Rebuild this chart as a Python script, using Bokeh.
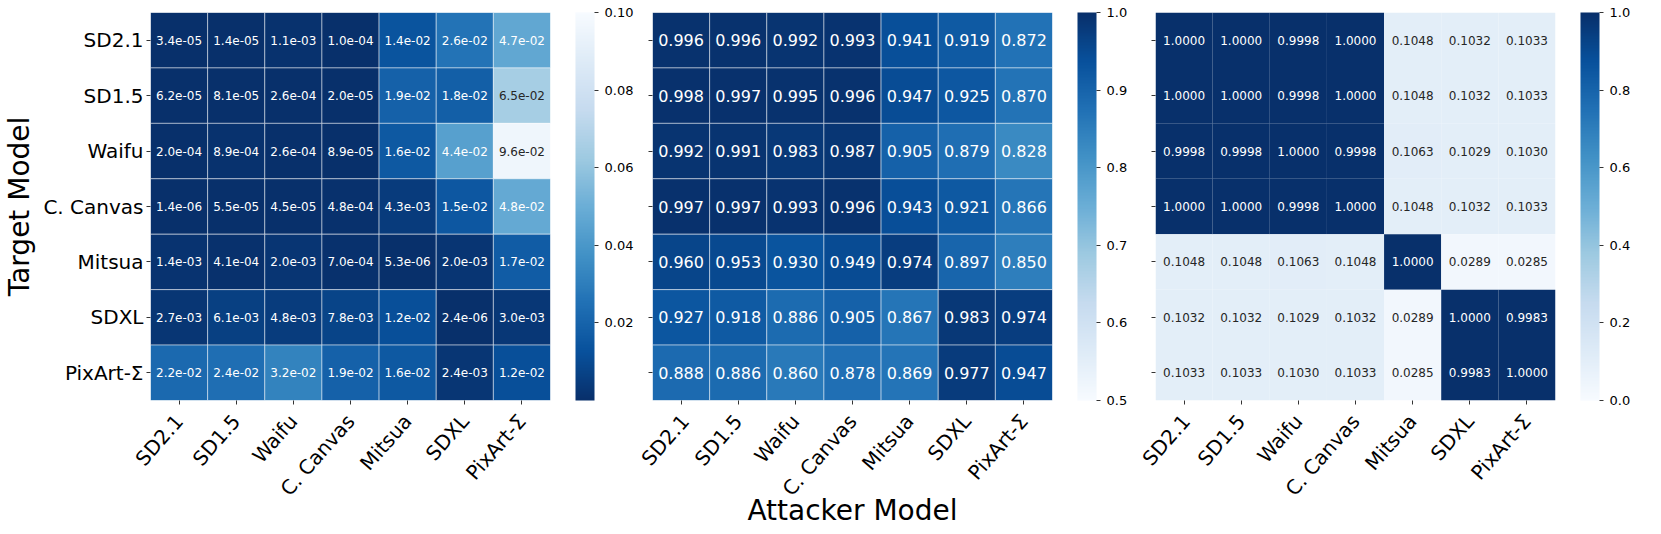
import math
from bokeh.plotting import figure
from bokeh.models import (ColumnDataSource, LinearColorMapper, ColorBar, FixedTicker,
                          PrintfTickFormatter, FactorRange)
from bokeh.palettes import Blues256
from bokeh.layouts import row
from bokeh.embed import file_html
from bokeh.resources import INLINE
from bokeh.core.properties import value
from bokeh.transform import transform

models = ["SD2.1", "SD1.5", "Waifu", "C. Canvas", "Mitsua", "SDXL", "PixArt-Σ"]

# panel 1 (rows = target model, columns = attacker model)
pvals = [
    [3.4e-05, 1.4e-05, 1.1e-03, 1.0e-04, 1.4e-02, 2.6e-02, 4.7e-02],
    [6.2e-05, 8.1e-05, 2.6e-04, 2.0e-05, 1.9e-02, 1.8e-02, 6.5e-02],
    [2.0e-04, 8.9e-04, 2.6e-04, 8.9e-05, 1.6e-02, 4.4e-02, 9.6e-02],
    [1.4e-06, 5.5e-05, 4.5e-05, 4.8e-04, 4.3e-03, 1.5e-02, 4.8e-02],
    [1.4e-03, 4.1e-04, 2.0e-03, 7.0e-04, 5.3e-06, 2.0e-03, 1.7e-02],
    [2.7e-03, 6.1e-03, 4.8e-03, 7.8e-03, 1.2e-02, 2.4e-06, 3.0e-03],
    [2.2e-02, 2.4e-02, 3.2e-02, 1.9e-02, 1.6e-02, 2.4e-03, 1.2e-02],
]
# panel 2
accs = [
    [0.996, 0.996, 0.992, 0.993, 0.941, 0.919, 0.872],
    [0.998, 0.997, 0.995, 0.996, 0.947, 0.925, 0.870],
    [0.992, 0.991, 0.983, 0.987, 0.905, 0.879, 0.828],
    [0.997, 0.997, 0.993, 0.996, 0.943, 0.921, 0.866],
    [0.960, 0.953, 0.930, 0.949, 0.974, 0.897, 0.850],
    [0.927, 0.918, 0.886, 0.905, 0.867, 0.983, 0.974],
    [0.888, 0.886, 0.860, 0.878, 0.869, 0.977, 0.947],
]
# panel 3
sims = [
    [1.0000, 1.0000, 0.9998, 1.0000, 0.1048, 0.1032, 0.1033],
    [1.0000, 1.0000, 0.9998, 1.0000, 0.1048, 0.1032, 0.1033],
    [0.9998, 0.9998, 1.0000, 0.9998, 0.1063, 0.1029, 0.1030],
    [1.0000, 1.0000, 0.9998, 1.0000, 0.1048, 0.1032, 0.1033],
    [0.1048, 0.1048, 0.1063, 0.1048, 1.0000, 0.0289, 0.0285],
    [0.1032, 0.1032, 0.1029, 0.1032, 0.0289, 1.0000, 0.9983],
    [0.1033, 0.1033, 0.1030, 0.1033, 0.0285, 0.9983, 1.0000],
]

cb1_ticks = [0.02, 0.04, 0.06, 0.08, 0.10]
cb2_ticks = [0.5, 0.6, 0.7, 0.8, 0.9, 1.0]
cb3_ticks = [0.0, 0.2, 0.4, 0.6, 0.8, 1.0]

FONT = "DejaVu Sans"
BLUES = list(Blues256)          # dark -> light
BLUES_R = list(reversed(BLUES))  # light -> dark
XANGLE = 0.85


def lum(hexc):
    r, g, b = [int(hexc[i:i + 2], 16) / 255 for i in (1, 3, 5)]

    def lin(c):
        return c / 12.92 if c <= 0.03928 else ((c + 0.055) / 1.055) ** 2.4
    return 0.2126 * lin(r) + 0.7152 * lin(g) + 0.0722 * lin(b)


def make_panel(matrix, palette, low, high, fmt, txt_size, cb_ticks, cb_fmt,
               left, right, show_ylabels, xlabel, lines):
    xs, ys, vals, txt, tcol = [], [], [], [], []
    n = len(palette)
    for i, rw in enumerate(matrix):
        for j, v in enumerate(rw):
            xs.append(models[j])
            ys.append(models[i])
            vals.append(v)
            txt.append(fmt % v)
            idx = int((v - low) / (high - low) * n)
            idx = max(0, min(n - 1, idx))
            tcol.append("#262626" if lum(palette[idx]) > 0.408 else "white")
    src = ColumnDataSource(dict(x=xs, y=ys, v=vals, t=txt, c=tcol))
    mapper = LinearColorMapper(palette=palette, low=low, high=high)

    p = figure(x_range=FactorRange(factors=models),
               y_range=FactorRange(factors=list(reversed(models))),
               frame_width=400, frame_height=388,
               min_border_left=left, min_border_right=right,
               min_border_top=12, min_border_bottom=4,
               output_backend="svg", toolbar_location=None)
    p.rect(x="x", y="y", width=1, height=1, source=src,
           fill_color=transform("v", mapper),
           line_color="white" if lines else None,
           line_width=0.8, line_alpha=0.6)
    p.text(x="x", y="y", text="t", text_color="c", source=src,
           text_align="center", text_baseline="middle",
           text_font=value(FONT), text_font_size=value(f"{txt_size}px"))

    p.grid.grid_line_color = None
    p.outline_line_color = None
    p.axis.axis_line_color = None
    p.axis.major_tick_in = 0
    p.axis.major_tick_out = 4
    p.axis.major_tick_line_color = "black"
    p.axis.major_tick_line_width = 0.8
    p.axis.minor_tick_line_color = None
    p.axis.major_label_text_font = FONT
    p.axis.major_label_text_font_size = "20px"
    p.axis.major_label_text_color = "black"
    p.yaxis.major_label_standoff = 3
    p.xaxis.major_label_standoff = 13
    p.xaxis.major_label_orientation = XANGLE
    if not show_ylabels:
        p.yaxis.major_label_text_color = None
        p.yaxis.major_label_text_font_size = "0px"
    else:
        p.yaxis.axis_label = "Target Model"
        p.yaxis.axis_label_text_font = FONT
        p.yaxis.axis_label_text_font_size = "28px"
        p.yaxis.axis_label_text_font_style = "normal"
        p.yaxis.axis_label_text_color = "black"
        p.yaxis.axis_label_standoff = 4
    if xlabel:
        p.xaxis.axis_label = xlabel
        p.xaxis.axis_label_text_font = FONT
        p.xaxis.axis_label_text_font_size = "28px"
        p.xaxis.axis_label_text_font_style = "normal"
        p.xaxis.axis_label_text_color = "black"
        p.xaxis.axis_label_standoff = -18

    cb = ColorBar(color_mapper=mapper, ticker=FixedTicker(ticks=cb_ticks),
                  formatter=PrintfTickFormatter(format=cb_fmt),
                  width=19, height=388, padding=0, margin=0,
                  location=(25, 0),
                  major_tick_in=0, major_tick_out=4,
                  major_tick_line_color="black", major_tick_line_width=0.8,
                  minor_tick_line_color=None,
                  major_label_text_font=FONT, major_label_text_font_size="13px",
                  major_label_text_color="black",
                  label_standoff=6, border_line_color=None, bar_line_color=None)
    p.add_layout(cb, "right")
    return p


p1 = make_panel(pvals, BLUES, 0.0, 0.1, "%.1e", 12, cb1_ticks, "%.2f",
                140, 85, True, None, True)
p2 = make_panel(accs, BLUES_R, 0.5, 1.0, "%.3f", 16, cb2_ticks, "%.1f",
                16, 85, False, "Attacker Model", True)
p3 = make_panel(sims, BLUES_R, 0.0, 1.0, "%.4f", 12, cb3_ticks, "%.1f",
                18, 75, False, None, False)

layout = row(p1, p2, p3)
open("out.html", "w").write(file_html(layout, INLINE))
